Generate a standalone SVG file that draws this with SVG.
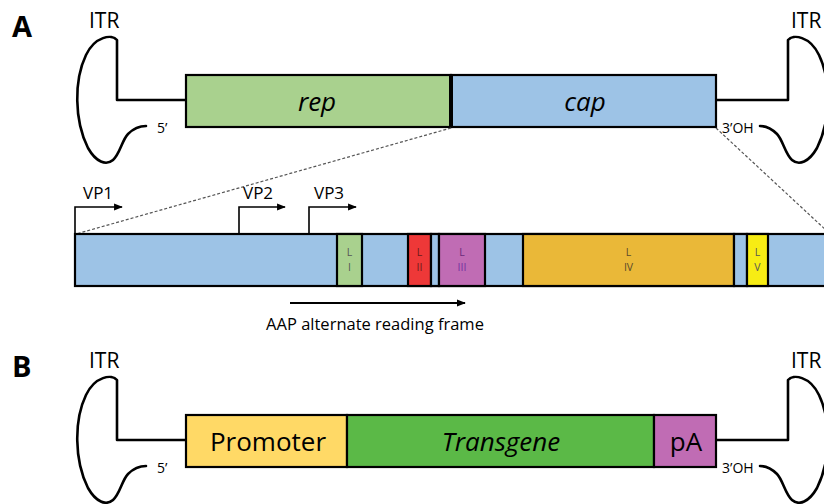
<svg xmlns="http://www.w3.org/2000/svg" width="824" height="504" viewBox="0 0 824 504">
<defs>
<marker id="ah" viewBox="0 0 10 10" refX="9" refY="5" markerWidth="5.5" markerHeight="5.5" orient="auto" markerUnits="strokeWidth"><path d="M0,1 L10,5 L0,9 z" fill="#000"/></marker>
<marker id="ah2" viewBox="0 0 10 10" refX="9" refY="5" markerWidth="4.5" markerHeight="4.5" orient="auto" markerUnits="strokeWidth"><path d="M0,1 L10,5 L0,9 z" fill="#000"/></marker>
</defs>
<style>
text{font-family:"Open Sans","Noto Sans","Liberation Sans",sans-serif;fill:#000}
.lab{font-size:29px;font-weight:bold}
.itr{font-size:21px}
.end{font-size:14px}
.big{font-size:26px;text-anchor:middle}
.it{font-style:italic}
.vp{font-size:17px}
.sm{font-size:10.5px;text-anchor:middle;fill:#555}
.hp{fill:none;stroke:#000;stroke-width:2.6;stroke-linejoin:round;stroke-linecap:round}
.box{stroke:#000;stroke-width:2.2}
.dash{fill:none;stroke:#555;stroke-width:1.2;stroke-dasharray:3 2}
.ln{fill:none;stroke:#000;stroke-width:1.6}
</style>
<rect width="824" height="504" fill="#fff"/>

<!-- Panel A -->
<g id="panelA-label"><text class="lab" x="12" y="37">A</text></g>

<g id="itrA-left">
<text class="itr" x="89" y="28">ITR</text>
<path class="hp" d="M186,100 L117,100 L117,40 C112,34 95,36 86,55 C74,80 74,120 88,148 C96,162 106,166 113,160 C120,154 122,140 128,134 C134,128 140,126 146,126"/>
<text class="end" x="157" y="133">5’</text>
</g>

<g id="itrA-right">
<text class="itr" x="791" y="28">ITR</text>
<path class="hp" d="M716,100 L788,100 L788,40 C793,34 810,36 819,55 C831,80 831,120 817,148 C809,162 799,166 792,160 C785,154 783,140 777,134 C771,128 766,126 760,126"/>
<text class="end" x="722" y="133">3’OH</text>
</g>

<g id="rep">
<rect class="box" x="186" y="75" width="265" height="52" fill="#A9D18E"/>
<text class="big it" x="317" y="111">rep</text>
</g>
<g id="cap">
<rect class="box" x="451" y="75" width="265" height="52" fill="#9DC3E6"/>
<text class="big it" x="585" y="111">cap</text>
<line x1="451" y1="74" x2="451" y2="128" stroke="#000" stroke-width="4"/>
</g>

<g id="connectors">
<line class="dash" x1="451" y1="128" x2="76" y2="234"/>
<line class="dash" x1="716" y1="128" x2="828" y2="232"/>
<path class="ln" d="M75,234 V207 H122" marker-end="url(#ah)"/>
<path class="ln" d="M239,234 V207 H285" marker-end="url(#ah)"/>
<path class="ln" d="M309,234 V207 H356" marker-end="url(#ah)"/>
<line x1="290" y1="303" x2="465" y2="303" stroke="#000" stroke-width="2" marker-end="url(#ah2)"/>
</g>

<g id="vp-labels">
<text class="vp" x="83" y="199">VP1</text>
<text class="vp" x="243" y="199">VP2</text>
<text class="vp" x="314" y="199">VP3</text>
</g>

<g id="capsid-bar">
<rect class="box" x="75" y="234" width="760" height="52" fill="#9DC3E6"/>
</g>
<g id="LI"><rect class="box" x="337" y="234" width="25" height="52" fill="#A9D18E"/><text class="sm" x="349.5" y="256">L</text><text class="sm" x="349.5" y="271">I</text></g>
<g id="LII"><rect class="box" x="408" y="234" width="23" height="52" fill="#EE3838"/><text class="sm" x="419.5" y="256" style="fill:#6a1a1a">L</text><text class="sm" x="419.5" y="271" style="fill:#6a1a1a">II</text></g>
<g id="blank1"><rect class="box" x="431" y="234" width="8" height="52" fill="#9DC3E6"/></g>
<g id="LIII"><rect class="box" x="439" y="234" width="46" height="52" fill="#C06CB4"/><text class="sm" x="462" y="256" style="fill:#6a2a7a">L</text><text class="sm" x="462" y="271" style="fill:#7030A0">III</text></g>
<g id="LIV"><rect class="box" x="523" y="234" width="211" height="52" fill="#EAB838"/><text class="sm" x="628.5" y="256" style="fill:#5a4a2a">L</text><text class="sm" x="628.5" y="271" style="fill:#5a4a2a">IV</text></g>
<g id="blank2"><rect class="box" x="734" y="234" width="13" height="52" fill="#9DC3E6"/></g>
<g id="LV"><rect class="box" x="747" y="234" width="21" height="52" fill="#F7EC14"/><text class="sm" x="757.5" y="256">L</text><text class="sm" x="757.5" y="271">V</text></g>

<g id="aap-label"><text x="375" y="330" style="font-size:16.5px;text-anchor:middle">AAP alternate reading frame</text></g>

<!-- Panel B -->
<g id="panelB-label"><text class="lab" x="12" y="377">B</text></g>

<g id="itrB-left">
<text class="itr" x="89" y="368">ITR</text>
<path class="hp" d="M186,440 L117,440 L117,380 C112,374 95,376 86,395 C74,420 74,460 88,488 C96,502 106,506 113,500 C120,494 122,480 128,474 C134,468 140,466 146,466"/>
<text class="end" x="157" y="473">5’</text>
</g>

<g id="itrB-right">
<text class="itr" x="791" y="368">ITR</text>
<path class="hp" d="M716,440 L788,440 L788,380 C793,374 810,376 819,395 C831,420 831,460 817,488 C809,502 799,506 792,500 C785,494 783,480 777,474 C771,468 766,466 760,466"/>
<text class="end" x="722" y="473">3’OH</text>
</g>

<g id="promoter">
<rect class="box" x="186" y="415" width="161" height="52" fill="#FFD966"/>
<text class="big" x="268" y="451">Promoter</text>
</g>
<g id="transgene">
<rect class="box" x="347" y="415" width="307" height="52" fill="#5BB947"/>
<text class="big it" x="501" y="451">Transgene</text>
</g>
<g id="pA">
<rect class="box" x="654" y="415" width="62" height="52" fill="#C06CB4"/>
<text class="big" x="686" y="451">pA</text>
</g>
</svg>
